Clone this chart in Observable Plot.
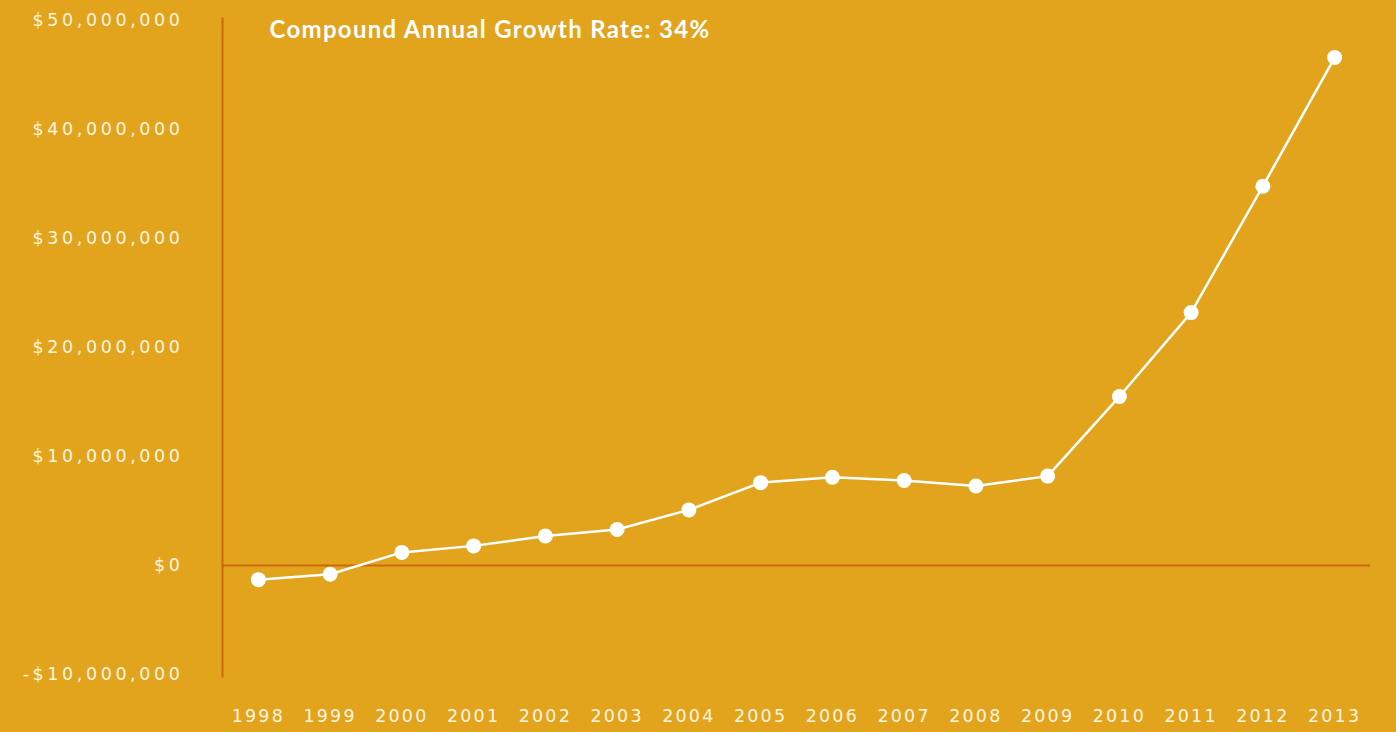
<!DOCTYPE html>
<html>
<head>
<meta charset="utf-8">
<script src="https://cdn.jsdelivr.net/npm/d3@7"></script>
<script src="https://cdn.jsdelivr.net/npm/@observablehq/plot@0.6"></script>
<style>
  html, body { margin: 0; padding: 0; background: #E2A31D; }
  #chart { width: 1396px; height: 732px; overflow: hidden; }
</style>
</head>
<body>
<div id="chart"></div>
<script>
const years = ["1998","1999","2000","2001","2002","2003","2004","2005","2006","2007","2008","2009","2010","2011","2012","2013"];
const values = [-1300000, -800000, 1200000, 1800000, 2700000, 3300000, 5100000, 7600000, 8100000, 7800000, 7300000, 8200000, 15500000, 23200000, 34800000, 46600000];
const yTicks = [-10000000, 0, 10000000, 20000000, 30000000, 40000000, 50000000];
const title = "Compound Annual Growth Rate: 34%";

const data = years.map((year, i) => ({year, value: values[i]}));
const fmt = v => (v < 0 ? "-$" : "$") + d3.format(",")(Math.abs(v));
const axisColor = "#CC6A0A";
const font = "'DejaVu Sans', sans-serif";

const chart = Plot.plot({
  width: 1396,
  height: 732,
  marginLeft: 222,
  marginRight: 26,
  marginTop: 20,
  marginBottom: 58,
  style: {background: "#E2A31D", color: "#FFF6E0", fontFamily: font},
  x: {type: "point", domain: years, padding: 0.5, round: false, label: null},
  y: {domain: [-10000000, 50000000], label: null},
  marks: [
    Plot.frame({anchor: "left", stroke: axisColor, strokeWidth: 2, insetTop: -2, insetBottom: -2}),
    Plot.ruleY([0], {stroke: axisColor, strokeWidth: 2}),
    Plot.axisY({ticks: yTicks, tickFormat: fmt, tickSize: 0, tickPadding: 39, fontSize: 17.5, fill: "#FFF6E0", label: null}),
    Plot.axisX({tickSize: 0, tickPadding: 35, fontSize: 17.5, fill: "#FFF6E0", label: null}),
    Plot.line(data, {x: "year", y: "value", stroke: "white", strokeWidth: 2.5}),
    Plot.dot(data, {x: "year", y: "value", r: 7.5, fill: "white"}),
    Plot.text([title], {frameAnchor: "top-left", dx: 47, dy: 0, text: d => d, fill: "white", fontSize: 24, fontWeight: "bold", fontFamily: "Lato, sans-serif", textAnchor: "start"})
  ]
});
chart.querySelectorAll("g[aria-label='y-axis tick label'] text").forEach(t => { t.style.letterSpacing = "3.6px"; t.style.fontFamily = font; });
chart.querySelectorAll("g[aria-label='x-axis tick label'] text").forEach(t => { t.style.letterSpacing = "2.2px"; t.style.fontFamily = font; });
chart.querySelectorAll("g[aria-label='text'] text").forEach(t => { t.style.letterSpacing = "1.3px"; });
document.getElementById("chart").appendChild(chart);
</script>
</body>
</html>
